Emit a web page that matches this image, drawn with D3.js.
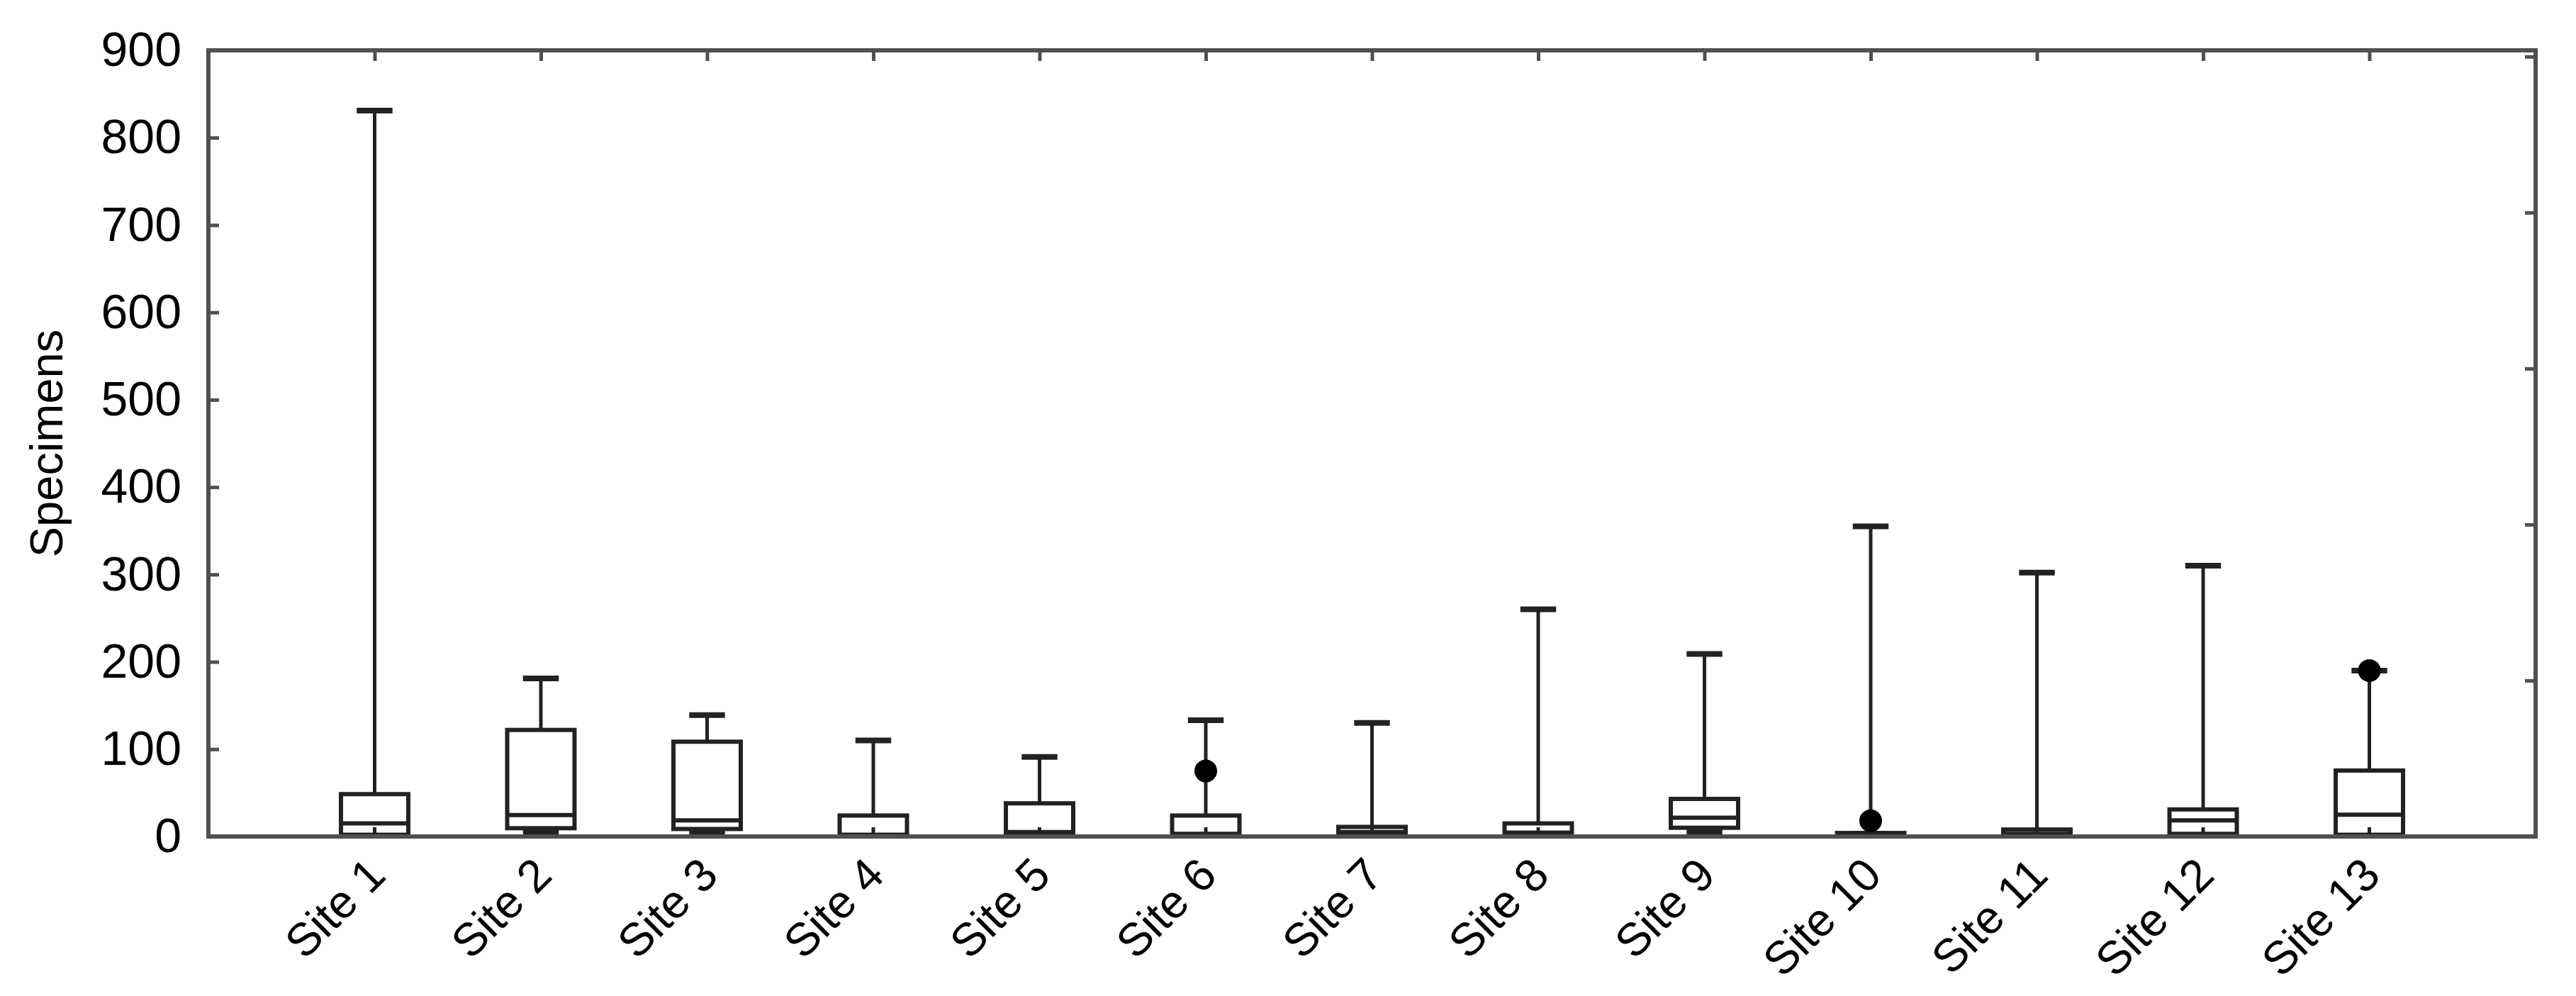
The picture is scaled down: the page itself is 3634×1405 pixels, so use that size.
<!DOCTYPE html>
<html>
<head>
<meta charset="utf-8">
<script src="https://cdn.jsdelivr.net/npm/d3@7"></script>
<style>
  body { margin: 0; background: #fff; }
  svg { display: block; }
</style>
</head>
<body>
<div id="chart"></div>
<script>
// values
const sites = ["Site 1", "Site 2", "Site 3", "Site 4", "Site 5", "Site 6", "Site 7",
               "Site 8", "Site 9", "Site 10", "Site 11", "Site 12", "Site 13"];
const minVals    = [0, 1, 1, 0, 0, 0, 0, 0, 2, 0, 0, 0, 0];
const q1Vals     = [2, 9.5, 8.6, 1, 1, 1, 1, 1, 10, 0, 0, 3, 2];
const medianVals = [15, 24.5, 18.5, 2, 5, 3, 5, 4.5, 21.5, 1, 3, 18.5, 25];
const q3Vals     = [48.5, 122, 108.5, 24, 38, 24, 11, 15, 43, 4, 8, 31, 75.5];
const maxVals    = [831, 181, 139, 110, 91, 133, 130, 260, 209, 355, 302, 310, 190];
const outlierSites = ["Site 6", "Site 10", "Site 13"];
const outlierVals  = [75, 18, 190];
const yTicks = [0, 100, 200, 300, 400, 500, 600, 700, 800, 900];
const rightTicks = [1, 2, 3, 4, 5];

const width = 3634;
const height = 1405;
const plotLeft = 294, plotRight = 3577, plotTop = 71, plotBottom = 1180;

const svg = d3.select("#chart")
    .append("svg")
    .attr("width", width)
    .attr("height", height);

const x = d3.scalePoint()
    .domain(sites)
    .range([plotLeft, plotRight])
    .padding(1);

const y = d3.scaleLinear()
    .domain([0, 900])
    .range([plotBottom, plotTop]);

// right side has its own evenly spaced ticks
const yRight = d3.scaleLinear()
    .domain([0, 5.04])
    .range([plotBottom, plotTop]);

const font = "'Liberation Sans', Arial, sans-serif";
const frameColor = "#505050";
const lineColor = "#222";

const boxes = sites.map((s, i) => ({
    site: s, min: minVals[i], q1: q1Vals[i], med: medianVals[i], q3: q3Vals[i], max: maxVals[i]
}));
const outliers = outlierSites.map((s, i) => ({ site: s, value: outlierVals[i] }));

const boxW = x.step() * 0.405;
const capW = x.step() * 0.215;

// Axes (ticks point inward)
const gLeft = svg.append("g")
    .attr("transform", `translate(${plotLeft},0)`)
    .call(d3.axisLeft(y).tickValues(yTicks).tickSizeInner(-15).tickSizeOuter(0).tickPadding(38));

const gBottom = svg.append("g")
    .attr("transform", `translate(0,${plotBottom})`)
    .call(d3.axisBottom(x).tickSizeInner(-13).tickSizeOuter(0));

svg.append("g")
    .attr("transform", `translate(0,${plotTop})`)
    .call(d3.axisTop(x).tickSizeInner(-15).tickSizeOuter(0).tickFormat(""));

svg.append("g")
    .attr("transform", `translate(${plotRight},0)`)
    .call(d3.axisRight(yRight).tickValues(rightTicks).tickSizeInner(-15).tickSizeOuter(0).tickFormat(""));

svg.selectAll(".domain").remove();
svg.selectAll(".tick line")
    .attr("stroke", frameColor)
    .attr("stroke-width", 5);

gLeft.selectAll("text")
    .style("font-family", font)
    .style("font-size", "68px")
    .attr("fill", "#000");

gBottom.selectAll("text")
    .attr("x", 0)
    .attr("y", 0)
    .attr("dy", 0)
    .attr("text-anchor", "end")
    .attr("transform", "translate(18,58) rotate(-45)")
    .style("font-family", font)
    .style("font-size", "65px")
    .attr("fill", "#000");

// Y axis title
svg.append("text")
    .attr("transform", `translate(88,${(plotTop + plotBottom) / 2}) rotate(-90)`)
    .attr("text-anchor", "middle")
    .style("font-family", font)
    .style("font-size", "65px")
    .text("Specimens");

// Whiskers
const plot = svg.append("g");

plot.selectAll(".whisker")
    .data(boxes)
    .enter().append("line")
    .attr("class", "whisker")
    .attr("x1", d => x(d.site))
    .attr("x2", d => x(d.site))
    .attr("y1", d => y(d.min))
    .attr("y2", d => y(d.max))
    .attr("stroke", lineColor)
    .attr("stroke-width", 5);

plot.selectAll(".cap-top")
    .data(boxes)
    .enter().append("line")
    .attr("class", "cap-top")
    .attr("x1", d => x(d.site) - capW / 2)
    .attr("x2", d => x(d.site) + capW / 2)
    .attr("y1", d => y(d.max))
    .attr("y2", d => y(d.max))
    .attr("stroke", lineColor)
    .attr("stroke-width", 8);

plot.selectAll(".cap-bottom")
    .data(boxes)
    .enter().append("line")
    .attr("class", "cap-bottom")
    .attr("x1", d => x(d.site) - capW / 2)
    .attr("x2", d => x(d.site) + capW / 2)
    .attr("y1", d => y(d.min) - 4)
    .attr("y2", d => y(d.min) - 4)
    .attr("stroke", lineColor)
    .attr("stroke-width", 8);

// Boxes
plot.selectAll(".box")
    .data(boxes)
    .enter().append("rect")
    .attr("class", "box")
    .attr("x", d => x(d.site) - boxW / 2)
    .attr("width", boxW)
    .attr("y", d => y(d.q3))
    .attr("height", d => Math.max(y(d.q1) - y(d.q3), 2))
    .attr("fill", "#fff")
    .attr("stroke", lineColor)
    .attr("stroke-width", 6);

plot.selectAll(".median")
    .data(boxes)
    .enter().append("line")
    .attr("class", "median")
    .attr("x1", d => x(d.site) - boxW / 2)
    .attr("x2", d => x(d.site) + boxW / 2)
    .attr("y1", d => y(d.med))
    .attr("y2", d => y(d.med))
    .attr("stroke", lineColor)
    .attr("stroke-width", 6);

// bottom ticks drawn again over the white boxes
plot.selectAll(".inner-tick")
    .data(boxes)
    .enter().append("line")
    .attr("class", "inner-tick")
    .attr("x1", d => x(d.site))
    .attr("x2", d => x(d.site))
    .attr("y1", plotBottom)
    .attr("y2", plotBottom - 13)
    .attr("stroke", lineColor)
    .attr("stroke-width", 5);

// Outliers
plot.selectAll(".outlier")
    .data(outliers)
    .enter().append("circle")
    .attr("class", "outlier")
    .attr("cx", d => x(d.site))
    .attr("cy", d => y(d.value))
    .attr("r", 16)
    .attr("fill", "#000");

// Frame
svg.append("rect")
    .attr("x", plotLeft)
    .attr("y", plotTop)
    .attr("width", plotRight - plotLeft)
    .attr("height", plotBottom - plotTop)
    .attr("fill", "none")
    .attr("stroke", frameColor)
    .attr("stroke-width", 6);
</script>
</body>
</html>
